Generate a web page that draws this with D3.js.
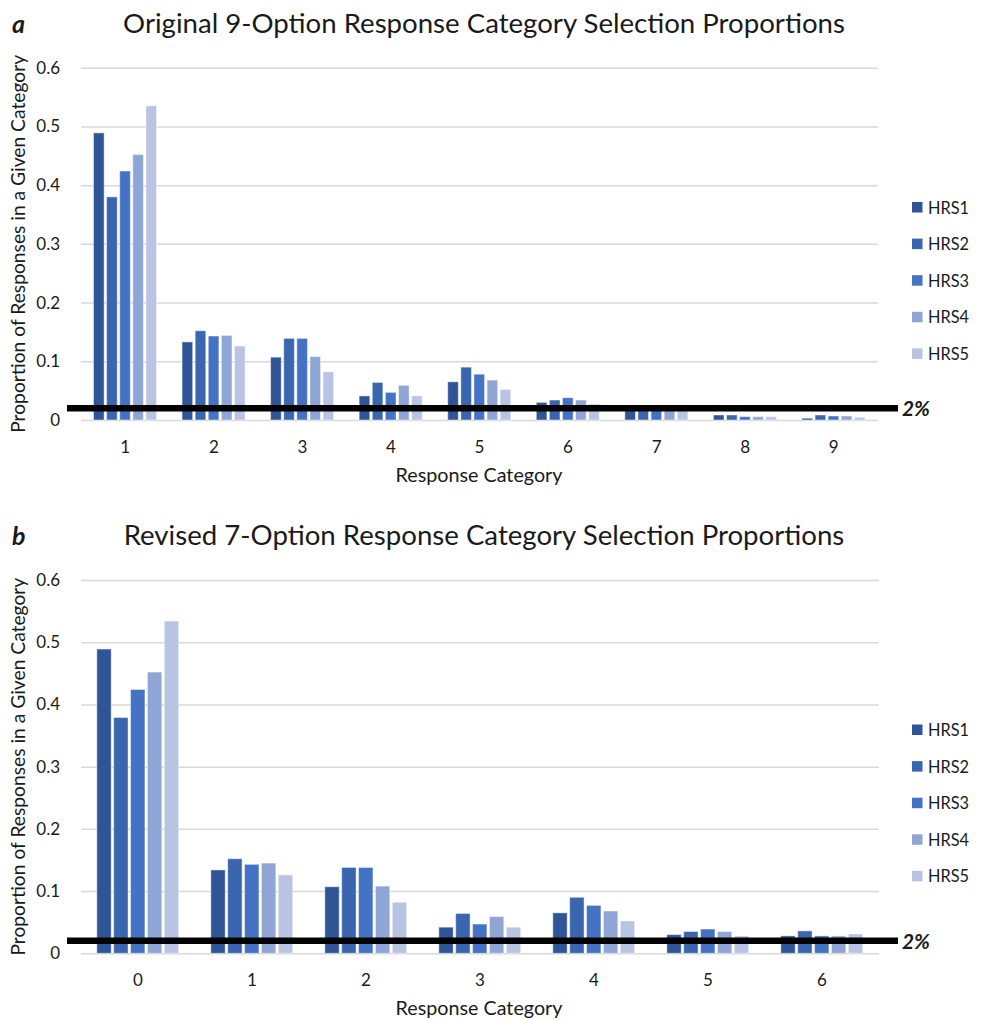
<!DOCTYPE html>
<html>
<head>
<meta charset="utf-8">
<script src="https://cdn.jsdelivr.net/npm/d3@7"></script>
<style>
  html, body { margin: 0; padding: 0; background: #fff; }
  svg { display: block; }
  text { font-family: Lato, "Open Sans", "Liberation Sans", sans-serif; fill: #1a1a1a; }
</style>
</head>
<body>
<svg id="chart" width="983" height="1020"></svg>
<script>
// ---------- data ----------
const seriesNames = ["HRS1", "HRS2", "HRS3", "HRS4", "HRS5"];
const seriesColors = ["#2F5597", "#3A65AF", "#4472C4", "#8FA5D5", "#B9C4E4"];

const categoriesA = ["1", "2", "3", "4", "5", "6", "7", "8", "9"];
const hrs1A = [0.489, 0.133, 0.107, 0.041, 0.065, 0.030, 0.021, 0.0085, 0.003];
const hrs2A = [0.380, 0.152, 0.139, 0.064, 0.090, 0.034, 0.022, 0.0085, 0.0085];
const hrs3A = [0.424, 0.143, 0.139, 0.047, 0.078, 0.038, 0.021, 0.0057, 0.0068];
const hrs4A = [0.452, 0.144, 0.108, 0.059, 0.068, 0.034, 0.020, 0.0057, 0.0068];
const hrs5A = [0.535, 0.126, 0.082, 0.041, 0.052, 0.027, 0.020, 0.0057, 0.0045];

const categoriesB = ["0", "1", "2", "3", "4", "5", "6"];
const hrs1B = [0.489, 0.134, 0.107, 0.042, 0.065, 0.030, 0.028];
const hrs2B = [0.379, 0.152, 0.138, 0.064, 0.090, 0.035, 0.036];
const hrs3B = [0.424, 0.143, 0.138, 0.047, 0.077, 0.039, 0.028];
const hrs4B = [0.452, 0.145, 0.108, 0.059, 0.068, 0.035, 0.028];
const hrs5B = [0.534, 0.126, 0.082, 0.042, 0.052, 0.028, 0.031];

const yTicks = [0, 0.1, 0.2, 0.3, 0.4, 0.5, 0.6];
const yTickLabels = ["0", "0.1", "0.2", "0.3", "0.4", "0.5", "0.6"];
const thresholdValue = 0.02;
const thresholdLabel = "2%";

const titleA = "Original 9-Option Response Category Selection Proportions";
const titleB = "Revised 7-Option Response Category Selection Proportions";
const xAxisTitle = "Response Category";
const yAxisTitle = "Proportion of Responses in a Given Category";

// ---------- drawing ----------
const svg = d3.select("#chart");

function fitText(sel, target) {
  sel.each(function () {
    const s = d3.select(this);
    const w = this.getComputedTextLength();
    const fs = parseFloat(s.attr("font-size"));
    if (w > 0) s.attr("font-size", (fs * target / w).toFixed(2));
  });
}

function drawPanel(cfg) {
  const g = svg.append("g");
  const { categories, series, yTop, yBottom, left, right } = cfg;

  const x = d3.scaleBand().domain(categories).range([left, right])
    .paddingInner(0.26).paddingOuter(0.13);
  const xs = d3.scaleBand().domain(seriesNames).range([0, x.bandwidth()]);
  const y = d3.scaleLinear().domain([0, 0.6]).range([yBottom, yTop]);

  // panel letter
  g.append("text").attr("x", 12).attr("y", cfg.titleY)
    .attr("font-size", 25).attr("font-weight", "bold").attr("font-style", "italic")
    .attr("fill", "#000").text(cfg.letter);

  // title
  const t = g.append("text").attr("x", cfg.titleX).attr("y", cfg.titleY)
    .attr("text-anchor", "middle").attr("font-size", 24).text(cfg.title);
  fitText(t, cfg.titleW);

  // gridlines
  const grid = g.append("g").attr("transform", `translate(${left},0)`)
    .call(d3.axisLeft(y).tickValues(yTicks).tickSize(-(right - left)).tickFormat(""));
  grid.select(".domain").remove();
  grid.selectAll(".tick line").attr("stroke", "#d9d9d9").attr("stroke-width", 1.5);

  // y tick labels
  const ya = g.append("g").attr("transform", `translate(${left},0)`)
    .call(d3.axisLeft(y).tickValues(yTicks).tickSize(0).tickPadding(21)
      .tickFormat((d, i) => yTickLabels[i]));
  ya.select(".domain").remove();
  ya.selectAll("text").attr("font-size", 17).attr("font-family", null).attr("fill", "#1a1a1a");

  // bars
  const groups = g.append("g").selectAll("g").data(categories).join("g")
    .attr("transform", d => `translate(${x(d)},0)`);
  groups.selectAll("rect")
    .data((c, ci) => series.map((s, si) => ({ name: seriesNames[si], v: s[ci], color: seriesColors[si] })))
    .join("rect")
    .attr("x", d => xs(d.name) + 1)
    .attr("width", xs.bandwidth() - 2.5)
    .attr("y", d => y(d.v))
    .attr("height", d => y(0) - y(d.v))
    .attr("fill", d => d.color)
    .attr("stroke", "#ffffff").attr("stroke-opacity", 0.45).attr("stroke-width", 1);

  // x tick labels
  const xa = g.append("g").attr("transform", `translate(0,${yBottom})`)
    .call(d3.axisBottom(x).tickSize(0).tickPadding(21));
  xa.select(".domain").remove();
  xa.selectAll("text").attr("font-size", 17).attr("font-family", null).attr("fill", "#1a1a1a");

  // x axis title
  const xt = g.append("text").attr("x", cfg.xTitleX).attr("y", cfg.xTitleY)
    .attr("text-anchor", "middle").attr("font-size", 17).text(xAxisTitle);
  fitText(xt, 167);

  // y axis title
  const ymid = (yTop + yBottom) / 2;
  const yt = g.append("text").attr("transform", `translate(25,${ymid}) rotate(-90)`)
    .attr("text-anchor", "middle").attr("font-size", 17).text(yAxisTitle);
  fitText(yt, 378);

  // threshold line
  g.append("line").attr("x1", 67).attr("x2", 898)
    .attr("y1", y(thresholdValue)).attr("y2", y(thresholdValue))
    .attr("stroke", "#000").attr("stroke-width", 6.5);
  const tl = g.append("text").attr("x", 902).attr("y", y(thresholdValue) + 8)
    .attr("font-size", 21).attr("font-weight", "bold").attr("font-style", "italic")
    .attr("fill", "#000").text(thresholdLabel);
  fitText(tl, 28);

  // legend
  const lg = g.append("g").selectAll("g").data(seriesNames).join("g")
    .attr("transform", (d, i) => `translate(912,${cfg.legendY + i * 36.6})`);
  lg.append("rect").attr("x", 0).attr("y", -5).attr("width", 10.5).attr("height", 10.5)
    .attr("fill", (d, i) => seriesColors[i]);
  lg.append("text").attr("x", 16).attr("y", 6.5).attr("font-size", 18)
    .attr("textLength", 41).attr("lengthAdjust", "spacingAndGlyphs").text(d => d);
}

drawPanel({
  letter: "a", title: titleA, titleX: 484, titleY: 33, titleW: 722,
  categories: categoriesA, series: [hrs1A, hrs2A, hrs3A, hrs4A, hrs5A],
  yTop: 67.7, yBottom: 420, left: 81, right: 878,
  xTitleX: 479, xTitleY: 482, legendY: 207
});

drawPanel({
  letter: "b", title: titleB, titleX: 484, titleY: 545, titleW: 721,
  categories: categoriesB, series: [hrs1B, hrs2B, hrs3B, hrs4B, hrs5B],
  yTop: 580, yBottom: 953.3, left: 81, right: 879,
  xTitleX: 479, xTitleY: 1015, legendY: 729.5
});
</script>
</body>
</html>
